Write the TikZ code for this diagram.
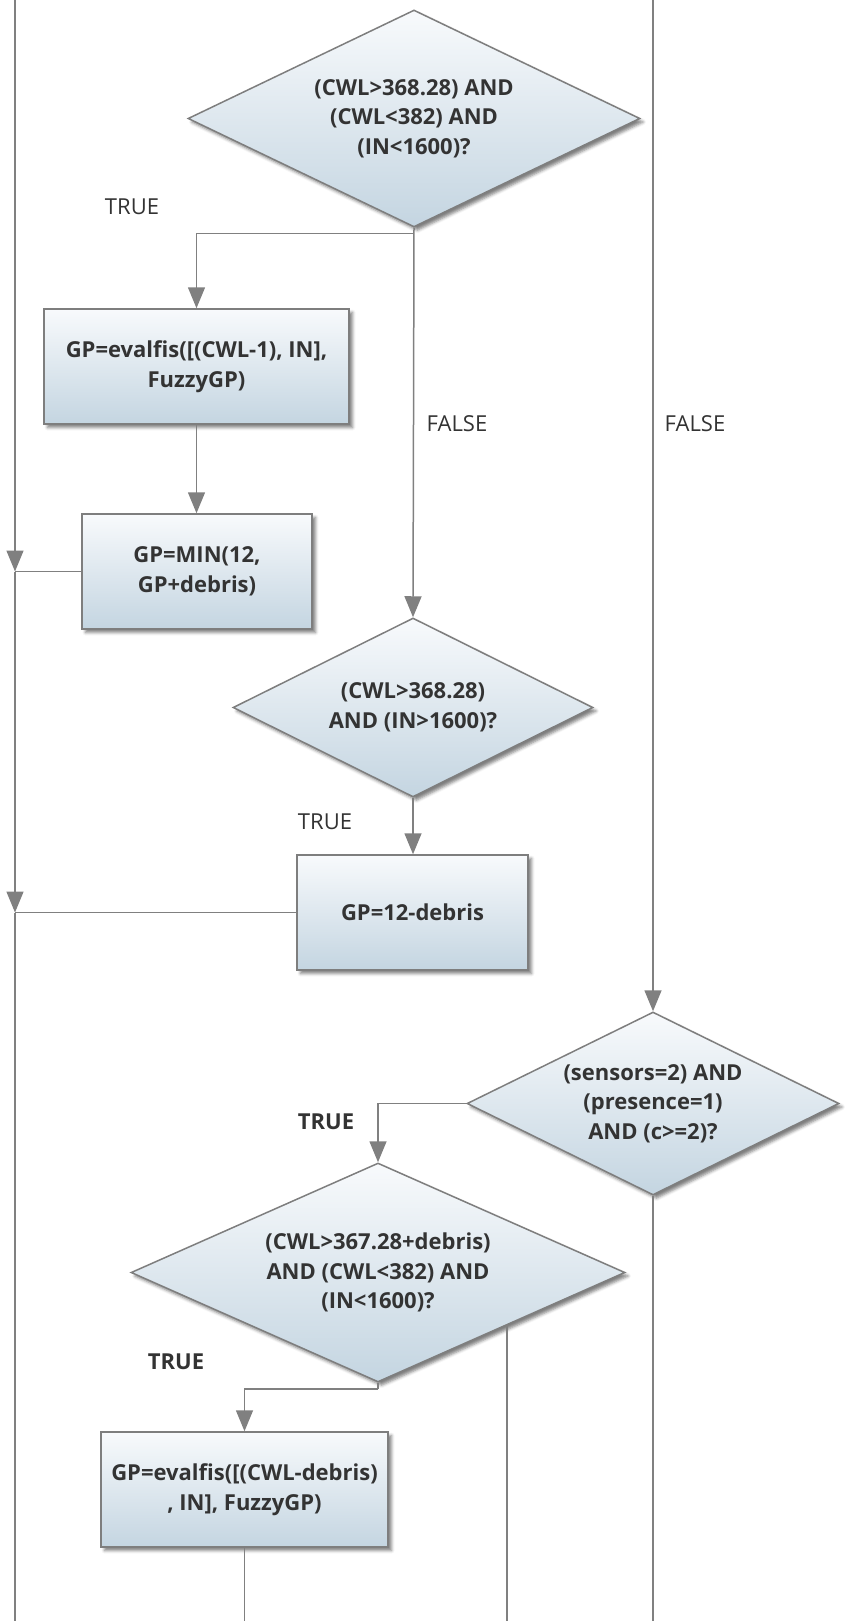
\documentclass[tikz,border=0pt]{standalone}
\usepackage{fontspec}
\setmainfont{Open Sans}
\usetikzlibrary{shapes.geometric,arrows.meta,shadows.blur,calc}
\definecolor{inkgray}{HTML}{333333}
\definecolor{rimgray}{HTML}{7E7E7E}
\definecolor{wiregray}{HTML}{808080}
\definecolor{shadetop}{HTML}{F8FAFC}
\definecolor{shadebot}{HTML}{C4D5E1}
\newcommand{\flowfont}{\fontsize{22}{29.5}\selectfont}

\begin{document}
\begin{tikzpicture}[x=1pt,y=-1pt,
  every node/.style={text=inkgray},
  shaded/.style={draw=rimgray, line width=1.5pt, top color=shadetop, bottom color=shadebot,
     blur shadow={shadow xshift=3.5pt, shadow yshift=-3.5pt, shadow blur radius=3pt, shadow opacity=50}},
  procbox/.style={shaded, rectangle, inner sep=0pt, align=center, font=\flowfont\bfseries},
  decision/.style={shaded, diamond, inner sep=0pt, align=center, font=\flowfont\bfseries},
  wire/.style={draw=wiregray, line width=1.5pt},
  arrowed/.style={wire, -{Triangle[length=21pt,width=17pt]}},
  plainlabel/.style={font=\flowfont},
  boldlabel/.style={font=\flowfont\bfseries},
]
\useasboundingbox (0,0) rectangle (849,1621);

% decisions
\node[decision, aspect=2.08, minimum width=452pt, minimum height=217pt] (D1) at (414,118.5)
  {(CWL>368.28) AND\\(CWL<382) AND\\(IN<1600)?};
\node[decision, aspect=2.01, minimum width=360pt, minimum height=179pt] (D2) at (413,707.5)
  {(CWL>368.28)\\AND (IN>1600)?};
\node[decision, aspect=2.03, minimum width=372pt, minimum height=183pt] (D3) at (653,1103.5)
  {(sensors=2) AND\\(presence=1)\\AND (c>=2)?};
\node[decision, aspect=2.26, minimum width=494pt, minimum height=219pt] (D4) at (378,1272.5)
  {(CWL>367.28+debris)\\AND (CWL<382) AND\\(IN<1600)?};

% process boxes
\node[procbox, minimum width=305pt, minimum height=115pt] (B1) at (196.5,366.5)
  {GP=evalfis([(CWL-1), IN],\\FuzzyGP)};
\node[procbox, minimum width=230pt, minimum height=115pt] (B2) at (197,571.5)
  {GP=MIN(12,\\GP+debris)};
\node[procbox, minimum width=231pt, minimum height=115pt] (B3) at (412.5,912.5)
  {GP=12-debris};
\node[procbox, minimum width=287pt, minimum height=115pt] (B4) at (244.5,1489.5)
  {GP=evalfis([(CWL-debris)\\, IN], FuzzyGP)};

% rails
\coordinate (railtop) at (15,0);
\coordinate (railbot) at (15,1621);
\coordinate (rtop) at (653,0);

% first decision
\draw[arrowed] (D1.south) -- (D2.north);
\coordinate (split1) at ($(D1.south)+(0,6)$);
\draw[arrowed] (split1) -| (B1.north);
\draw[arrowed] (B1.south) -- (B1.south |- B2.north);
\draw[arrowed] (D2.south) -- (D2.south |- B3.north);

% left rail with joins
\draw[arrowed] (railtop) -- (railtop |- B2.west);
\draw[wire] (B2.west) -- (railtop |- B2.west);
\draw[arrowed] (railtop |- B2.west) -- (railtop |- B3.west);
\draw[wire] (B3.west) -- (railtop |- B3.west);
\draw[wire] (railtop |- B3.west) -- (railbot);

% right rail
\draw[arrowed] (rtop) -- (D3.north);
\draw[wire] (D3.south) -- (D3.south |- railbot);
\draw[arrowed] (D3.west) -| (D4.north);

% fourth decision
\coordinate (split4) at ($(D4.south)+(0,6)$);
\draw[wire] (D4.south) -- (split4);
\draw[arrowed] (split4) -| (B4.north);
\draw[wire] (B4.south) -- (B4.south |- railbot);
\coordinate (d4exit) at ($(D4.east)!0.48!(D4.south)$);
\draw[wire] (d4exit) -- (d4exit |- railbot);

% branch labels
\node[plainlabel] (t1) at (132,207) {TRUE};
\node[plainlabel] (f1) at (457,424) {FALSE};
\node[plainlabel] (f2) at (695,424) {FALSE};
\node[plainlabel] (t2) at (325,822) {TRUE};
\node[boldlabel] (t3) at (326,1122) {TRUE};
\node[boldlabel] (t4) at (176,1362) {TRUE};
\end{tikzpicture}
\end{document}
